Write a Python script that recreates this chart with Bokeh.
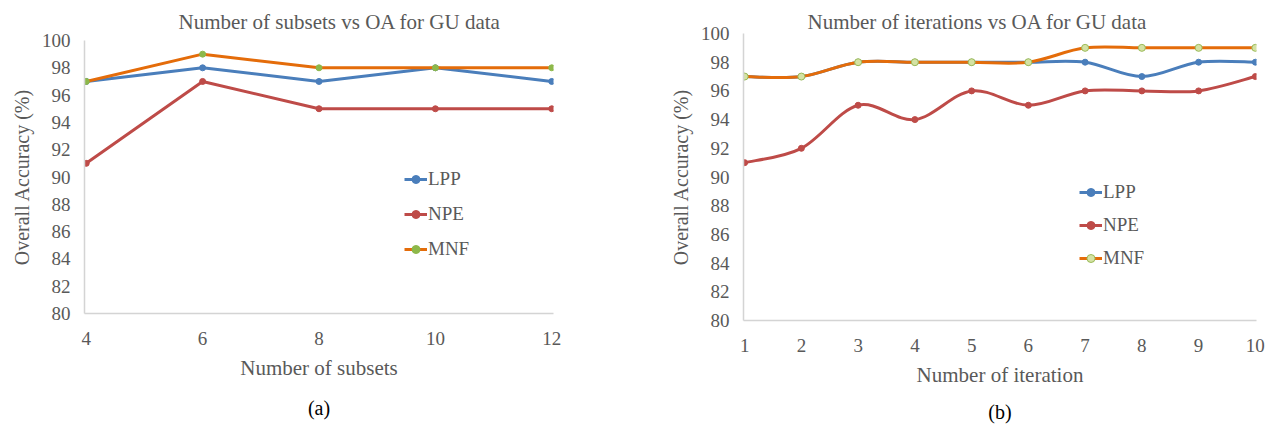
from bokeh.plotting import figure
from bokeh.models import Range1d, FixedTicker, Legend, LegendItem, Title
from bokeh.layouts import row, column
from bokeh.embed import file_html
from bokeh.resources import INLINE

# ---- data ----
subsets = [4, 6, 8, 10, 12]
lpp_a = [97, 98, 97, 98, 97]
npe_a = [91, 97, 95, 95, 95]
mnf_a = [97, 99, 98, 98, 98]

iters = [1, 2, 3, 4, 5, 6, 7, 8, 9, 10]
lpp_b = [97, 97, 98, 98, 98, 98, 98, 97, 98, 98]
npe_b = [91, 92, 95, 94, 96, 95, 96, 96, 96, 97]
mnf_b = [97, 97, 98, 98, 98, 98, 99, 99, 99, 99]

y_ticks = list(range(80, 101, 2))
series_names = ["LPP", "NPE", "MNF"]

FONT = "Liberation Serif"
TXT = "#595959"
BLUE = "#4A7EBB"
RED = "#BE4B48"
ORANGE = "#E46C0A"


def bezier_segments(xs, ys):
    """Catmull-Rom style control points (like spreadsheet smoothed lines)."""
    n = len(xs)
    x0, y0, x1, y1, cx0, cy0, cx1, cy1 = [], [], [], [], [], [], [], []
    for i in range(n - 1):
        xp, yp = (xs[i - 1], ys[i - 1]) if i > 0 else (xs[i], ys[i])
        xn, yn = (xs[i + 2], ys[i + 2]) if i + 2 < n else (xs[i + 1], ys[i + 1])
        x0.append(xs[i]); y0.append(ys[i])
        x1.append(xs[i + 1]); y1.append(ys[i + 1])
        cx0.append(xs[i] + (xs[i + 1] - xp) / 6.0)
        cy0.append(ys[i] + (ys[i + 1] - yp) / 6.0)
        cx1.append(xs[i + 1] - (xn - xs[i]) / 6.0)
        cy1.append(ys[i + 1] - (yn - ys[i]) / 6.0)
    return dict(x0=x0, y0=y0, x1=x1, y1=y1, cx0=cx0, cy0=cy0, cx1=cx1, cy1=cy1)


def base_fig(width, height, xr, xticks, title, title_offset, title_standoff,
             xlabel, sub, sub_standoff, mbl, mbr, mbt, mbb):
    p = figure(width=width, height=height, x_range=xr, y_range=Range1d(80, 100),
               output_backend="svg", toolbar_location=None,
               min_border_left=mbl, min_border_right=mbr,
               min_border_top=mbt, min_border_bottom=mbb)
    p.outline_line_color = None
    p.grid.visible = False
    p.title.text = title
    p.title.align = "left"
    p.title.offset = title_offset
    p.title.standoff = title_standoff
    p.title.text_font = FONT
    p.title.text_font_size = "21px"
    p.title.text_font_style = "normal"
    p.title.text_color = TXT
    for ax in (p.xaxis[0], p.yaxis[0]):
        ax.major_tick_line_color = None
        ax.minor_tick_line_color = None
        ax.major_label_text_font = FONT
        ax.major_label_text_font_size = "19px"
        ax.major_label_text_color = TXT
        ax.axis_label_text_font = FONT
        ax.axis_label_text_font_style = "normal"
        ax.axis_label_text_color = TXT
        ax.axis_line_color = "#D4D4D4"
        ax.axis_line_width = 1.5
    p.xaxis.axis_label_text_font_size = "21px"
    p.yaxis.axis_label_text_font_size = "20px"
    p.xaxis.ticker = FixedTicker(ticks=xticks)
    p.yaxis.ticker = FixedTicker(ticks=y_ticks)
    p.xaxis.axis_label = xlabel
    p.yaxis.axis_label = "Overall Accuracy (%)"
    p.xaxis.major_label_standoff = 12
    p.xaxis.axis_label_standoff = 8
    p.yaxis.major_label_standoff = 8
    p.yaxis.axis_label_standoff = 6
    t = Title(text=sub, align="center", text_font=FONT, text_font_size="20px",
              text_font_style="normal", text_color="#000000", standoff=sub_standoff)
    p.add_layout(t, "below")
    return p


def legend_for(p, items, loc, spacing):
    lg = Legend(items=[LegendItem(label=lab, renderers=r) for lab, r in items],
                location=loc, orientation="vertical",
                background_fill_alpha=0, border_line_color=None,
                label_text_font=FONT, label_text_font_size="19px",
                label_text_color=TXT, glyph_width=23, glyph_height=20,
                label_height=20, spacing=spacing, padding=0, margin=0,
                label_standoff=1)
    p.add_layout(lg)


# ---- chart (a) ----
pa = base_fig(630, 432, Range1d(subsets[0] - 0.03, subsets[-1] + 0.03), subsets,
              "Number of subsets vs OA for GU data", 94, 13,
              "Number of subsets", "(a)", 24, 84, 77, 40, 119)
ra = []
for ys, col, mfill, mline in [(lpp_a, BLUE, BLUE, BLUE),
                              (npe_a, RED, RED, RED),
                              (mnf_a, ORANGE, "#8DB84A", "#8DB84A")]:
    l = pa.line(subsets, ys, line_color=col, line_width=3)
    s = pa.scatter(subsets, ys, size=6, fill_color=mfill, line_color=mline)
    ra.append([l, s])
legend_for(pa, list(zip(series_names, ra)), (320, 53), 13)

# ---- chart (b) ----
pb = base_fig(650, 432, Range1d(iters[0] - 0.02, iters[-1] + 0.02), iters,
              "Number of iterations vs OA for GU data", 64, 0,
              "Number of iteration", "(b)", 18, 113, 24, 33, 112)
rb = []
for ys, col, mfill, mline, ms in [(lpp_b, BLUE, BLUE, BLUE, 6),
                                  (npe_b, RED, RED, RED, 6),
                                  (mnf_b, ORANGE, "#D4E2A4", "#9BBB59", 7)]:
    l = pb.bezier(line_color=col, line_width=3, **bezier_segments(iters, ys))
    s = pb.scatter(iters, ys, size=ms, fill_color=mfill, line_color=mline)
    rb.append([l, s])
legend_for(pb, list(zip(series_names, rb)), (336, 51), 11)

layout = row(column(pa), column(pb))
open("out.html", "w").write(file_html(layout, INLINE))
